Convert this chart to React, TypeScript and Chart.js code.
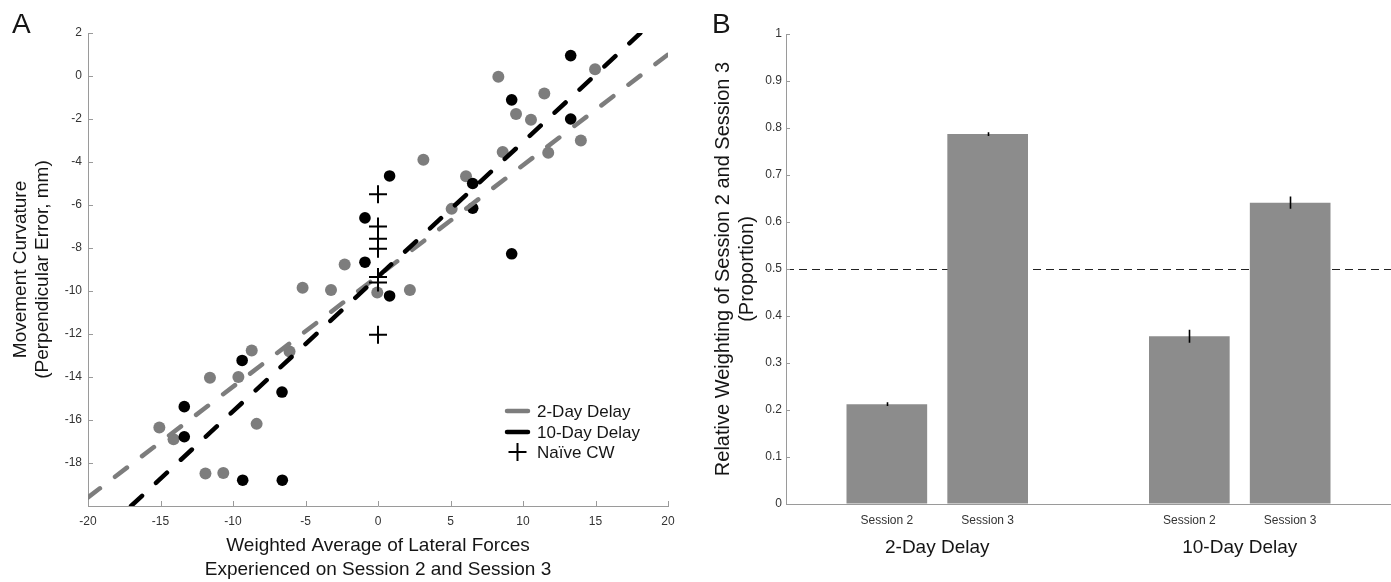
import React, { useEffect, useRef } from 'react';
import { Chart, registerables } from 'chart.js';
Chart.register(...registerables);

const FONT = "'Liberation Sans', Arial, Helvetica, sans-serif";

// ---------- Panel A data ----------
const xTicksA = [-20, -15, -10, -5, 0, 5, 10, 15, 20];
const yTicksA = [-20, -18, -16, -14, -12, -10, -8, -6, -4, -2, 0, 2];

const grayX = [-2.3, -0.05, 2.2, -5.2, -3.24, -8.71, -6.1, -11.59, -9.63, -15.08, -14.1, -8.37, -11.9, -10.67, 3.13, 8.3, 14.97, 11.47, 9.52, 10.55, 13.99, 11.74, 8.6, 6.07, 5.08];
const grayY = [-8.77, -10.07, -9.95, -9.85, -9.95, -12.77, -12.81, -14.03, -14.0, -16.35, -16.9, -16.18, -18.49, -18.46, -3.9, -0.03, 0.31, -0.81, -1.77, -2.03, -3.0, -3.57, -3.54, -4.66, -6.18];

const blackX = [0.8, -0.9, -0.9, 0.8, -9.37, -6.62, -13.36, -13.36, -9.33, -6.6, 13.29, 9.22, 13.29, 6.53, 6.53, 9.22];
const blackY = [-4.65, -6.6, -8.66, -10.23, -13.23, -14.7, -15.38, -16.78, -18.8, -18.8, 0.95, -1.11, -2.0, -5.0, -6.15, -8.27];

const naiveX = [0, 0, 0, 0, 0, 0, 0];
const naiveY = [-5.5, -7.0, -7.57, -8.03, -9.35, -9.6, -12.03];

const fit2X = [-20, 20];
const fit2Y = [-19.6, 1.0];
const fit10X = [-17.03, 18.1];
const fit10Y = [-20, 2.0];

const legendLabelsA = ['2-Day Delay', '10-Day Delay', 'Naïve CW'];
const xTitleA = ['Weighted Average of Lateral Forces', 'Experienced on Session 2 and Session 3'];
const yTitleA = ['Movement Curvature', '(Perpendicular Error, mm)'];

// ---------- Panel B data ----------
const sessionLabels = ['Session 2', 'Session 3', 'Session 2', 'Session 3'];
const sessionPos = [1, 2, 4, 5];
const weights = [0.2125, 0.787, 0.357, 0.641];
const weightErr = [0.004, 0.004, 0.014, 0.013];
const groupLabels = ['2-Day Delay', '10-Day Delay'];
const groupPos = [1.5, 4.5];
const yTicksB = [0, 0.1, 0.2, 0.3, 0.4, 0.5, 0.6, 0.7, 0.8, 0.9, 1];
const refLineB = 0.5;
const yTitleB = ['Relative Weighting of Session 2 and Session 3', '(Proportion)'];

const GRAY = '#7d7d7d';
const AXIS = '#9a9a9a';
const TICKTXT = '#333333';
const TXT = '#151515';

const pts = (xs: number[], ys: number[]) => xs.map((x, i) => ({ x, y: ys[i] }));

function inwardTicks(len: number, doX: boolean) {
  return {
    id: 'inwardTicks',
    afterDraw(chart: any) {
      const { ctx, chartArea } = chart;
      const xs = chart.scales.x;
      const ys = chart.scales.y;
      ctx.save();
      ctx.strokeStyle = AXIS;
      ctx.lineWidth = 1;
      ctx.beginPath();
      if (doX) {
        xs.ticks.forEach((t: any) => {
          const px = Math.round(xs.getPixelForValue(t.value)) + 0.5;
          ctx.moveTo(px, chartArea.bottom);
          ctx.lineTo(px, chartArea.bottom - len);
        });
      }
      ys.ticks.forEach((t: any) => {
        const py = Math.round(ys.getPixelForValue(t.value)) + 0.5;
        ctx.moveTo(chartArea.left, py);
        ctx.lineTo(chartArea.left + len, py);
      });
      ctx.stroke();
      ctx.restore();
    },
  };
}

const decorA = {
  id: 'decorA',
  afterDraw(chart: any) {
    const { ctx, chartArea } = chart;
    ctx.save();
    ctx.fillStyle = TXT;
    // panel letter
    ctx.font = `28px ${FONT}`;
    ctx.textAlign = 'left';
    ctx.textBaseline = 'alphabetic';
    ctx.fillText('A', 12, 33);
    // x title
    ctx.font = `19px ${FONT}`;
    ctx.textAlign = 'center';
    ctx.textBaseline = 'middle';
    const cx = (chartArea.left + chartArea.right) / 2;
    ctx.fillText(xTitleA[0], cx, 546);
    ctx.fillText(xTitleA[1], cx, 570);
    // y title
    const cy = (chartArea.top + chartArea.bottom) / 2;
    ctx.save();
    ctx.translate(21, cy);
    ctx.rotate(-Math.PI / 2);
    ctx.fillText(yTitleA[0], 0, 0);
    ctx.fillText(yTitleA[1], 0, 22);
    ctx.restore();
    // legend
    const rows = [411, 432, 452];
    ctx.lineCap = 'round';
    ctx.lineWidth = 4.5;
    ctx.strokeStyle = GRAY;
    ctx.beginPath();
    ctx.moveTo(507, rows[0]);
    ctx.lineTo(528, rows[0]);
    ctx.stroke();
    ctx.strokeStyle = '#000';
    ctx.beginPath();
    ctx.moveTo(507, rows[1]);
    ctx.lineTo(528, rows[1]);
    ctx.stroke();
    ctx.lineCap = 'butt';
    ctx.lineWidth = 2;
    ctx.beginPath();
    ctx.moveTo(508.5, rows[2]);
    ctx.lineTo(526.5, rows[2]);
    ctx.moveTo(517.5, rows[2] - 9);
    ctx.lineTo(517.5, rows[2] + 9);
    ctx.stroke();
    ctx.font = `17px ${FONT}`;
    ctx.textAlign = 'left';
    ctx.fillStyle = TXT;
    legendLabelsA.forEach((l, i) => ctx.fillText(l, 537, rows[i] + 1));
    ctx.restore();
  },
};

const decorB = {
  id: 'decorB',
  beforeDatasetsDraw(chart: any) {
    const { ctx, chartArea } = chart;
    const y = Math.round(chart.scales.y.getPixelForValue(refLineB)) + 0.5;
    ctx.save();
    ctx.strokeStyle = '#222';
    ctx.lineWidth = 1;
    ctx.setLineDash([8, 5]);
    ctx.beginPath();
    ctx.moveTo(chartArea.left, y);
    ctx.lineTo(chartArea.right, y);
    ctx.stroke();
    ctx.restore();
  },
  afterDatasetsDraw(chart: any) {
    const { ctx } = chart;
    const xs = chart.scales.x;
    const ys = chart.scales.y;
    ctx.save();
    ctx.strokeStyle = '#000';
    ctx.lineWidth = 1.6;
    ctx.beginPath();
    sessionPos.forEach((p, i) => {
      const px = Math.round(xs.getPixelForValue(p)) + 0.5;
      ctx.moveTo(px, ys.getPixelForValue(weights[i] + weightErr[i]));
      ctx.lineTo(px, ys.getPixelForValue(weights[i] - weightErr[i]));
    });
    ctx.stroke();
    ctx.restore();
  },
  afterDraw(chart: any) {
    const { ctx, chartArea } = chart;
    const xs = chart.scales.x;
    ctx.save();
    ctx.fillStyle = TXT;
    ctx.font = `28px ${FONT}`;
    ctx.textAlign = 'left';
    ctx.textBaseline = 'alphabetic';
    ctx.fillText('B', 12, 33);
    ctx.font = `19px ${FONT}`;
    ctx.textAlign = 'center';
    ctx.textBaseline = 'middle';
    groupLabels.forEach((g, i) => ctx.fillText(g, xs.getPixelForValue(groupPos[i]), 548));
    const cy = (chartArea.top + chartArea.bottom) / 2;
    ctx.font = `20px ${FONT}`;
    ctx.save();
    ctx.translate(23, cy);
    ctx.rotate(-Math.PI / 2);
    ctx.fillText(yTitleB[0], 0, 0);
    ctx.fillText(yTitleB[1], 0, 24);
    ctx.restore();
    ctx.restore();
  },
};

export default function App() {
  const refA = useRef<HTMLCanvasElement>(null);
  const refB = useRef<HTMLCanvasElement>(null);

  useEffect(() => {
    const tickFont = { family: FONT, size: 12 };
    const chartA = new Chart(refA.current as HTMLCanvasElement, {
      type: 'scatter',
      data: {
        datasets: [
          {
            label: 'Naïve CW',
            data: pts(naiveX, naiveY),
            pointStyle: 'cross',
            pointRadius: 9,
            borderColor: '#000',
            backgroundColor: '#000',
            borderWidth: 2,
            order: 0,
          } as any,
          {
            label: '10-Day fit',
            data: pts(fit10X, fit10Y),
            showLine: true,
            pointRadius: 0,
            borderColor: '#000',
            borderWidth: 4.5,
            borderDash: [15, 19],
            borderCapStyle: 'round',
            order: 1,
          },
          {
            label: '2-Day fit',
            data: pts(fit2X, fit2Y),
            showLine: true,
            pointRadius: 0,
            borderColor: GRAY,
            borderWidth: 4.5,
            borderDash: [15, 19],
            borderCapStyle: 'round',
            order: 2,
          },
          {
            label: '10-Day Delay',
            data: pts(blackX, blackY),
            pointRadius: 5.8,
            borderWidth: 0,
            backgroundColor: '#000',
            order: 3,
          },
          {
            label: '2-Day Delay',
            data: pts(grayX, grayY),
            pointRadius: 6,
            borderWidth: 0,
            backgroundColor: GRAY,
            order: 4,
          },
        ],
      },
      options: {
        responsive: false,
        animation: false,
        devicePixelRatio: 1,
        events: [],
        layout: { padding: { left: 0, top: 33, right: 32, bottom: 0 } },
        plugins: { legend: { display: false }, tooltip: { enabled: false } },
        scales: {
          x: {
            type: 'linear',
            min: -20,
            max: 20,
            afterBuildTicks: (s: any) => {
              s.ticks = xTicksA.map((v) => ({ value: v }));
            },
            afterFit: (s: any) => {
              s.height = 76;
            },
            grid: { display: true, drawOnChartArea: false, drawTicks: false },
            border: { display: true, color: AXIS, width: 1 },
            ticks: { font: tickFont, color: TICKTXT, padding: 8, maxRotation: 0, autoSkip: false, callback: (v: any) => String(v) },
          },
          y: {
            type: 'linear',
            min: -20,
            max: 2,
            afterBuildTicks: (s: any) => {
              s.ticks = yTicksA.map((v) => ({ value: v }));
            },
            afterFit: (s: any) => {
              s.width = 88;
            },
            grid: { display: true, drawOnChartArea: false, drawTicks: false },
            border: { display: true, color: AXIS, width: 1 },
            ticks: { font: tickFont, color: TICKTXT, padding: 6, autoSkip: false, callback: (v: any) => (v === -20 ? '' : String(v)) },
          },
        },
      },
      plugins: [inwardTicks(5, true), decorA],
    });

    const chartB = new Chart(refB.current as HTMLCanvasElement, {
      type: 'bar',
      data: {
        datasets: [
          {
            label: 'Relative weighting',
            data: pts(sessionPos, weights),
            backgroundColor: '#8c8c8c',
            borderWidth: 0,
            barPercentage: 0.8,
            categoryPercentage: 1,
          },
        ],
      },
      options: {
        responsive: false,
        animation: false,
        devicePixelRatio: 1,
        events: [],
        layout: { padding: { left: 0, top: 34, right: 0, bottom: 0 } },
        plugins: { legend: { display: false }, tooltip: { enabled: false } },
        scales: {
          x: {
            type: 'linear',
            min: 0,
            max: 6,
            offset: false,
            afterBuildTicks: (s: any) => {
              s.ticks = sessionPos.map((v) => ({ value: v }));
            },
            afterFit: (s: any) => {
              s.height = 78;
            },
            grid: { display: false, drawTicks: false },
            border: { display: true, color: AXIS, width: 1 },
            ticks: {
              font: tickFont,
              color: TICKTXT,
              padding: 9,
              maxRotation: 0,
              autoSkip: false,
              callback: (_v: any, i: number) => sessionLabels[i],
            },
          },
          y: {
            type: 'linear',
            min: 0,
            max: 1,
            afterBuildTicks: (s: any) => {
              s.ticks = yTicksB.map((v) => ({ value: v }));
            },
            afterFit: (s: any) => {
              s.width = 86;
            },
            grid: { display: true, drawOnChartArea: false, drawTicks: false },
            border: { display: true, color: AXIS, width: 1 },
            ticks: { font: tickFont, color: TICKTXT, padding: 4, autoSkip: false, callback: (v: any) => String(Math.round(v * 10) / 10) },
          },
        },
      },
      plugins: [inwardTicks(4, false), decorB],
    });

    return () => {
      chartA.destroy();
      chartB.destroy();
    };
  }, []);

  return (
    <div style={{ position: 'fixed', left: 0, top: 0, width: 1391, height: 582, background: '#fff', overflow: 'hidden' }}>
      <canvas ref={refA} width={700} height={582} style={{ position: 'absolute', left: 0, top: 0 }} />
      <canvas ref={refB} width={691} height={582} style={{ position: 'absolute', left: 700, top: 0 }} />
    </div>
  );
}
